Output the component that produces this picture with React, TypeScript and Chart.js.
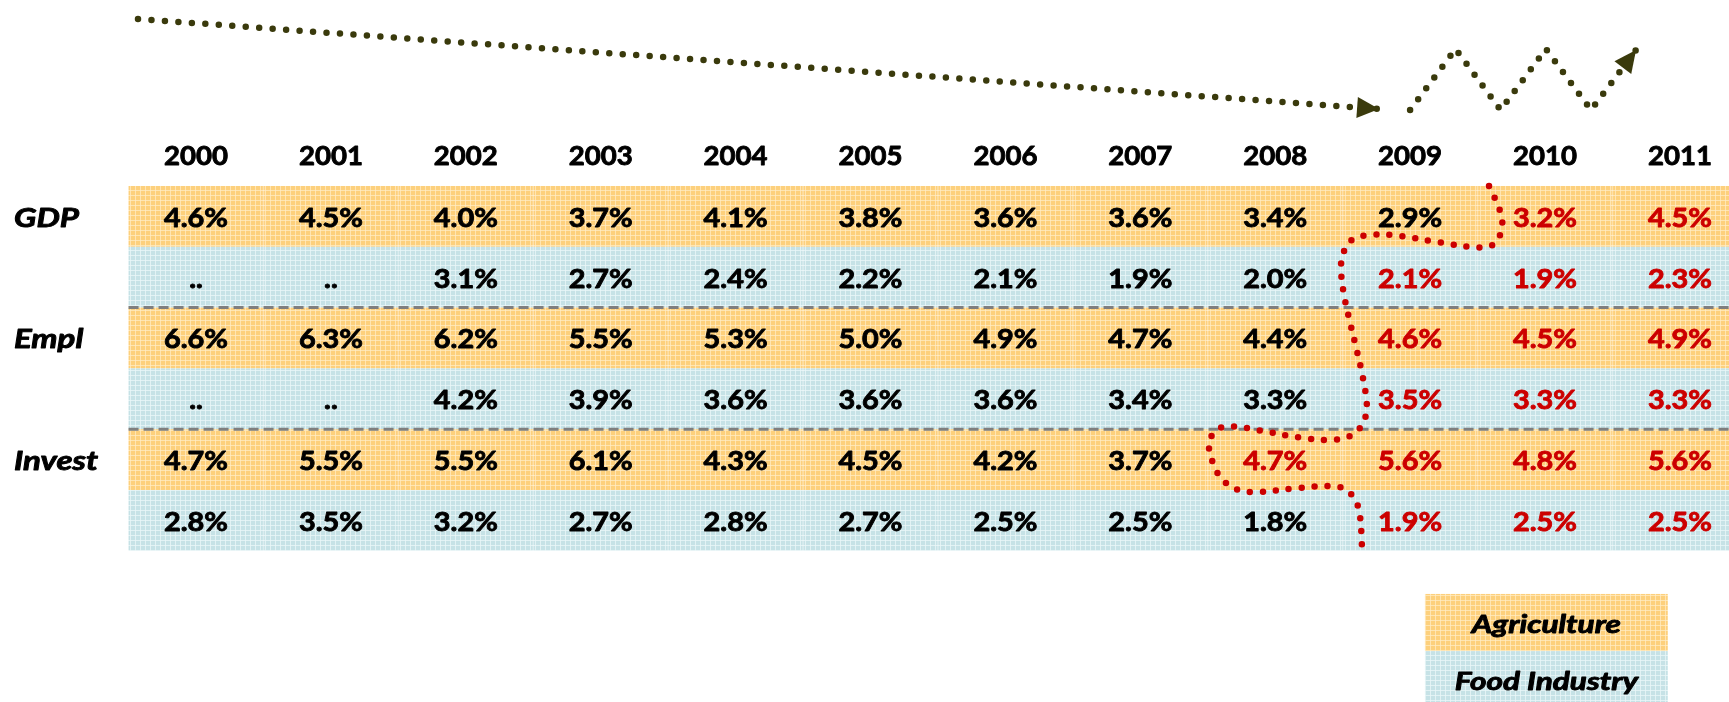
import React, { useEffect, useRef } from "react";
import { Chart, registerables } from "chart.js";

Chart.register(...registerables);

// ---------- data ----------
const years = ["2000", "2001", "2002", "2003", "2004", "2005", "2006", "2007", "2008", "2009", "2010", "2011"];
const rowLabels = ["GDP", "", "Empl", "", "Invest", ""];
const gdpAgri = [4.6, 4.5, 4.0, 3.7, 4.1, 3.8, 3.6, 3.6, 3.4, 2.9, 3.2, 4.5];
const gdpFood = [null, null, 3.1, 2.7, 2.4, 2.2, 2.1, 1.9, 2.0, 2.1, 1.9, 2.3];
const emplAgri = [6.6, 6.3, 6.2, 5.5, 5.3, 5.0, 4.9, 4.7, 4.4, 4.6, 4.5, 4.9];
const emplFood = [null, null, 4.2, 3.9, 3.6, 3.6, 3.6, 3.4, 3.3, 3.5, 3.3, 3.3];
const investAgri = [4.7, 5.5, 5.5, 6.1, 4.3, 4.5, 4.2, 3.7, 4.7, 5.6, 4.8, 5.6];
const investFood = [2.8, 3.5, 3.2, 2.7, 2.8, 2.7, 2.5, 2.5, 1.8, 1.9, 2.5, 2.5];
// index of first red (estimated) value in each row
const firstEstimate = [10, 9, 9, 9, 8, 9];
const rowKinds = ["agri", "food", "agri", "food", "agri", "food"];
const legendLabels = ["Agriculture", "Food Industry"];

// decorative trend lines (x in column units, y in row units)
const trendX = [-0.43, 8.77];
const trendY = [-2.747, -1.266];
const zigX = [9.0, 9.337, 9.671, 10.007, 10.341, 10.675];
const zigY = [-1.25, -2.253, -1.25, -2.253, -1.25, -2.237];
// red boundary between actual and estimated values
const redX = [9.585, 9.667, 9.681, 9.622, 9.503, 9.222, 8.925, 8.718, 8.569, 8.502, 8.488, 8.51, 8.554, 8.599, 8.643, 8.677, 8.673, 8.629, 8.54, 8.406, 8.184, 7.887, 7.709, 7.591, 7.524, 7.509, 7.539, 7.598, 7.709, 7.85, 8.184, 8.406, 8.517, 8.584, 8.621, 8.64, 8.643];
const redY = [0, 0.411, 0.691, 0.954, 1.012, 0.929, 0.822, 0.801, 0.888, 1.118, 1.382, 1.793, 2.237, 2.648, 3.076, 3.52, 3.766, 3.98, 4.128, 4.178, 4.137, 4.021, 3.959, 3.98, 4.128, 4.309, 4.556, 4.803, 4.984, 5.033, 4.967, 4.934, 4.984, 5.132, 5.329, 5.74, 5.987];

const tableRows = [gdpAgri, gdpFood, emplAgri, emplFood, investAgri, investFood];

// ---------- styles ----------
const FONT = "Lato, 'Open Sans', 'DejaVu Sans', sans-serif";
const OLIVE = "#3a3a0c";
const RED = "#cc0000";

function makePattern(base: string, line: string) {
  const c = document.createElement("canvas");
  c.width = 5;
  c.height = 5;
  const g = c.getContext("2d")!;
  g.fillStyle = base;
  g.fillRect(0, 0, 5, 5);
  g.fillStyle = line;
  g.fillRect(0, 0, 5, 1);
  g.fillRect(0, 0, 1, 5);
  return g.createPattern(c, "repeat")!;
}

function drawText(ctx: CanvasRenderingContext2D, text: string, x: number, yBase: number, font: string, color: string, align: string, targetRef: string, targetW: number) {
  ctx.save();
  ctx.font = font;
  const stretch = targetW / ctx.measureText(targetRef).width;
  const w = ctx.measureText(text).width * stretch;
  const left = align === "center" ? x - w / 2 : align === "left" ? x : x - w;
  ctx.translate(left, yBase);
  ctx.scale(stretch, 1);
  ctx.fillStyle = color;
  ctx.strokeStyle = color;
  ctx.lineWidth = 0.9;
  ctx.lineJoin = "round";
  ctx.textAlign = "left";
  ctx.textBaseline = "alphabetic";
  ctx.fillText(text, 0, 0);
  ctx.strokeText(text, 0, 0);
  ctx.restore();
}

function arrowHead(ctx: CanvasRenderingContext2D, tipX: number, tipY: number, fromX: number, fromY: number, len: number, half: number) {
  const a = Math.atan2(tipY - fromY, tipX - fromX);
  ctx.save();
  ctx.translate(tipX, tipY);
  ctx.rotate(a);
  ctx.beginPath();
  ctx.moveTo(0, 0);
  ctx.lineTo(-len, -half);
  ctx.lineTo(-len, half);
  ctx.closePath();
  ctx.fillStyle = OLIVE;
  ctx.fill();
  ctx.restore();
}

const tablePlugin = {
  id: "tablePlugin",
  beforeDatasetsDraw(chart: any) {
    const { ctx, scales, chartArea } = chart;
    const xs = scales.x;
    const ys = scales.y;
    const agriPat = makePattern("#fdd07c", "rgba(255,236,196,0.75)");
    const foodPat = makePattern("#c6e2e6", "rgba(232,246,248,0.8)");
    const left = xs.getPixelForValue(-0.5);
    const right = chartArea.right;

    // row backgrounds
    rowKinds.forEach((k, r) => {
      const t = ys.getPixelForValue(r);
      const b = ys.getPixelForValue(r + 1);
      ctx.fillStyle = k === "agri" ? agriPat : foodPat;
      ctx.fillRect(left, t, right - left, b - t);
    });
    // faint column separators
    ctx.save();
    ctx.strokeStyle = "rgba(255,255,255,0.35)";
    ctx.lineWidth = 1.5;
    for (let i = 0; i < years.length; i++) {
      const x = xs.getPixelForValue(i + 0.5);
      ctx.beginPath();
      ctx.moveTo(x, ys.getPixelForValue(0));
      ctx.lineTo(x, ys.getPixelForValue(6));
      ctx.stroke();
    }
    ctx.restore();
    // dashed separators
    ctx.save();
    ctx.strokeStyle = "#7f7f7f";
    ctx.lineWidth = 3;
    ctx.setLineDash([10, 5]);
    [2, 4].forEach((r) => {
      const y = ys.getPixelForValue(r);
      ctx.beginPath();
      ctx.moveTo(left, y);
      ctx.lineTo(right, y);
      ctx.stroke();
    });
    ctx.restore();

    const valFont = `bold 27px ${FONT}`;
    // year headers
    years.forEach((yr, i) => {
      drawText(ctx, yr, xs.getPixelForValue(i), ys.getPixelForValue(-0.5) + 9.5, valFont, "#000", "center", "2000", 64);
    });
    // values
    tableRows.forEach((row, r) => {
      row.forEach((v, i) => {
        const txt = v === null ? ".." : v.toFixed(1) + "%";
        const col = i >= firstEstimate[r] ? RED : "#000";
        drawText(ctx, txt, xs.getPixelForValue(i), ys.getPixelForValue(r + 0.5) + 10.5, valFont, col, "center", "4.6%", 64);
      });
    });
    // row labels
    const lblFont = `italic bold 27px ${FONT}`;
    rowLabels.forEach((l, r) => {
      if (!l) return;
      drawText(ctx, l, 14, ys.getPixelForValue(r + 0.5) + 10.5, lblFont, "#000", "left", "Invest", 84);
    });
    // legend boxes
    const lgL = xs.getPixelForValue(9.11);
    const lgR = xs.getPixelForValue(10.91);
    const lgRows = [6.71, 7.65, 8.59];
    legendLabels.forEach((lab, i) => {
      const t = ys.getPixelForValue(lgRows[i]);
      const b = ys.getPixelForValue(lgRows[i + 1]);
      ctx.fillStyle = i === 0 ? agriPat : foodPat;
      ctx.fillRect(lgL, t, lgR - lgL, b - t);
      drawText(ctx, lab, (lgL + lgR) / 2, (t + b) / 2 + 10, `italic bold 25px ${FONT}`, "#000", "center", "Agriculture", 149);
    });
  },
  afterDatasetsDraw(chart: any) {
    const { ctx, scales } = chart;
    const xs = scales.x;
    const ys = scales.y;
    const n = trendX.length - 1;
    arrowHead(ctx, xs.getPixelForValue(trendX[n]), ys.getPixelForValue(trendY[n]), xs.getPixelForValue(trendX[0]), ys.getPixelForValue(trendY[0]), 22, 10.5);
    const m = zigX.length - 1;
    arrowHead(ctx, xs.getPixelForValue(zigX[m]), ys.getPixelForValue(zigY[m]), xs.getPixelForValue(zigX[m - 1]), ys.getPixelForValue(zigY[m - 1]), 22, 10.5);
  },
};

export default function App() {
  const ref = useRef<HTMLCanvasElement>(null);
  useEffect(() => {
    const toPts = (xa: number[], ya: number[]) => xa.map((x, i) => ({ x, y: ya[i] }));
    const dotted = (color: string, gap: number) => ({
      borderColor: color,
      borderWidth: 6.5,
      borderDash: [0, gap],
      borderCapStyle: "round",
      borderJoinStyle: "round",
      pointRadius: 0,
      fill: false,
    });
    const chart = new Chart(ref.current!, {
      type: "line",
      data: {
        datasets: [
          { data: toPts(trendX, trendY), ...dotted(OLIVE, 13.5) },
          { data: toPts(zigX, zigY), ...dotted(OLIVE, 13.5) },
          { data: toPts(redX, redY), ...dotted(RED, 13), tension: 0.35 },
        ],
      },
      options: {
        animation: false,
        responsive: true,
        maintainAspectRatio: false,
        layout: { padding: 0 },
        events: [],
        plugins: { legend: { display: false }, tooltip: { enabled: false } },
        scales: {
          x: { type: "linear", display: false, min: -1.453, max: 11.364 },
          y: { type: "linear", display: false, reverse: true, min: -3.059, max: 8.487 },
        },
      },
      plugins: [tablePlugin],
    } as any);
    return () => chart.destroy();
  }, []);
  return (
    <div style={{ position: "fixed", left: 0, top: 0, width: 1729, height: 702, background: "#fff" }}>
      <canvas ref={ref} />
    </div>
  );
}
